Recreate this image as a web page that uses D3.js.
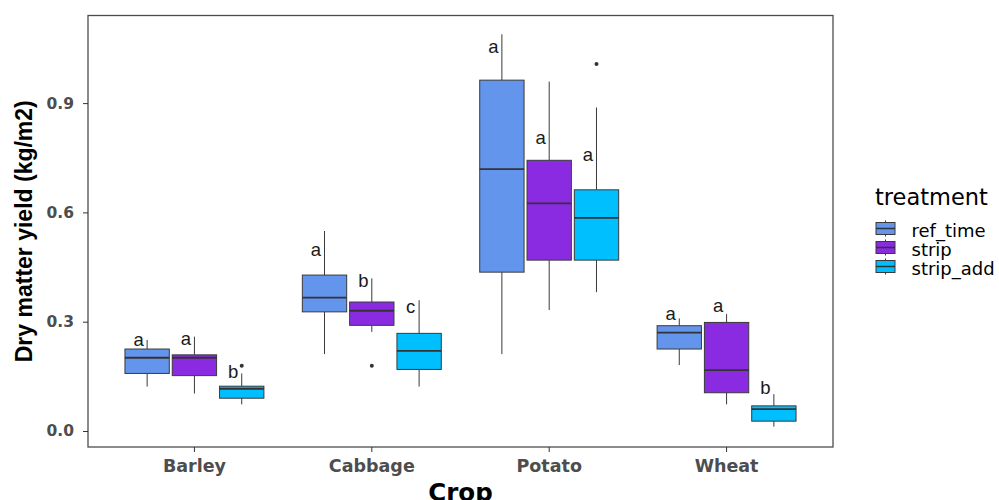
<!DOCTYPE html>
<html>
<meta charset="utf-8">
<script src="https://d3js.org/d3.v7.js"></script>
<style>
    body { margin: 0; background: #fff; }
    text { font-family: "DejaVu Sans", sans-serif; }
</style>
<body>
    <div id="my_boxplot"></div>
    <script>

        // crops and treatments
        var crops = ["Barley", "Cabbage", "Potato", "Wheat"];
        var treatments = ["ref_time", "strip", "strip_add"];
        var colors = ["#6495ED", "#8A2BE2", "#00BFFF"];

        // box statistics per treatment, one value per crop
        var ref_time_low = [0.122, 0.211, 0.211, 0.181];
        var ref_time_q1 = [0.158, 0.327, 0.436, 0.225];
        var ref_time_med = [0.201, 0.366, 0.719, 0.270];
        var ref_time_q3 = [0.225, 0.428, 0.963, 0.289];
        var ref_time_high = [0.250, 0.549, 1.089, 0.309];

        var strip_low = [0.103, 0.272, 0.332, 0.073];
        var strip_q1 = [0.152, 0.290, 0.469, 0.105];
        var strip_med = [0.201, 0.330, 0.625, 0.167];
        var strip_q3 = [0.209, 0.354, 0.743, 0.298];
        var strip_high = [0.259, 0.419, 0.959, 0.321];

        var strip_add_low = [0.073, 0.122, 0.381, 0.012];
        var strip_add_q1 = [0.090, 0.169, 0.469, 0.027];
        var strip_add_med = [0.116, 0.220, 0.585, 0.060];
        var strip_add_q3 = [0.123, 0.268, 0.662, 0.069];
        var strip_add_high = [0.158, 0.359, 0.888, 0.101];

        // outliers: [crop, treatment, value]
        var outliers = [
            ["Barley", "strip_add", 0.179],
            ["Cabbage", "strip", 0.179],
            ["Potato", "strip_add", 1.007]
        ];

        // significance letters and their heights
        var ref_time_letters = ["a", "a", "a", "a"];
        var strip_letters = ["a", "b", "a", "a"];
        var strip_add_letters = ["b", "c", "a", "b"];
        var ref_time_letterY = [0.250, 0.497, 1.055, 0.320];
        var strip_letterY = [0.252, 0.412, 0.804, 0.343];
        var strip_add_letterY = [0.163, 0.341, 0.757, 0.119];

        var yTicks = [0.0, 0.3, 0.6, 0.9];

        // build table of boxes
        var stats = {
            ref_time: [ref_time_low, ref_time_q1, ref_time_med, ref_time_q3, ref_time_high, ref_time_letters, ref_time_letterY],
            strip: [strip_low, strip_q1, strip_med, strip_q3, strip_high, strip_letters, strip_letterY],
            strip_add: [strip_add_low, strip_add_q1, strip_add_med, strip_add_q3, strip_add_high, strip_add_letters, strip_add_letterY]
        };
        var boxes = [];
        treatments.forEach(function (t) {
            var s = stats[t];
            crops.forEach(function (c, i) {
                boxes.push({
                    crop: c, treatment: t,
                    low: s[0][i], q1: s[1][i], med: s[2][i], q3: s[3][i], high: s[4][i],
                    letter: s[5][i], letterY: s[6][i]
                });
            });
        });

        // panel
        var panel = { left: 88, top: 15.5, right: 833, bottom: 447 };

        var svg = d3.select("#my_boxplot")
            .append("svg")
            .attr("width", 999)
            .attr("height", 500);

        // scales
        var x = d3.scaleBand()
            .domain(crops)
            .range([panel.left, panel.right])
            .paddingInner(0)
            .paddingOuter(0.1);
        var step = x.step();
        var xSub = d3.scaleBand()
            .domain(treatments)
            .range([-0.4 * step, 0.4 * step]);
        var boxW = 0.25 * step;

        var y = d3.scaleLinear()
            .domain([0, 0.3])
            .range([431, 431 - 109.3]);

        var color = d3.scaleOrdinal().domain(treatments).range(colors);

        function cx(d) { return x(d.crop) + x.bandwidth() / 2 + xSub(d.treatment) + xSub.bandwidth() / 2; }

        // boxes
        var g = svg.append("g");
        var box = g.selectAll(".box")
            .data(boxes)
            .enter()
            .append("g")
            .attr("class", "box");

        box.append("line")
            .attr("x1", cx).attr("x2", cx)
            .attr("y1", function (d) { return y(d.high) })
            .attr("y2", function (d) { return y(d.q3) })
            .attr("stroke", "#3a3a3a").attr("stroke-width", 1);
        box.append("line")
            .attr("x1", cx).attr("x2", cx)
            .attr("y1", function (d) { return y(d.q1) })
            .attr("y2", function (d) { return y(d.low) })
            .attr("stroke", "#3a3a3a").attr("stroke-width", 1);
        box.append("rect")
            .attr("x", function (d) { return cx(d) - boxW / 2 })
            .attr("y", function (d) { return y(d.q3) })
            .attr("width", boxW)
            .attr("height", function (d) { return y(d.q1) - y(d.q3) })
            .attr("fill", function (d) { return color(d.treatment) })
            .attr("stroke", "#3a3a3a").attr("stroke-width", 1);
        box.append("line")
            .attr("x1", function (d) { return cx(d) - boxW / 2 })
            .attr("x2", function (d) { return cx(d) + boxW / 2 })
            .attr("y1", function (d) { return y(d.med) })
            .attr("y2", function (d) { return y(d.med) })
            .attr("stroke", "#333").attr("stroke-width", 1.8);

        // letters
        box.append("text")
            .attr("x", function (d) { return cx(d) - 8.5 })
            .attr("y", function (d) { return y(d.letterY) })
            .attr("dy", "0.32em")
            .attr("text-anchor", "middle")
            .style("font-family", "'Liberation Sans', Arial, sans-serif")
            .style("font-size", "18.5px")
            .style("fill", "#1a1a1a")
            .text(function (d) { return d.letter });

        // outliers
        g.selectAll(".out")
            .data(outliers)
            .enter()
            .append("circle")
            .attr("cx", function (d) { return cx({ crop: d[0], treatment: d[1] }) })
            .attr("cy", function (d) { return y(d[2]) })
            .attr("r", 2)
            .attr("fill", "#333");

        // panel border
        svg.append("rect")
            .attr("x", panel.left)
            .attr("y", panel.top)
            .attr("width", panel.right - panel.left)
            .attr("height", panel.bottom - panel.top)
            .attr("fill", "none")
            .attr("stroke", "#4d4d4d")
            .attr("stroke-width", 1.3);

        // axes
        var yAxis = svg.append("g")
            .attr("transform", "translate(" + panel.left + ",0)")
            .call(d3.axisLeft(y).tickValues(yTicks).tickFormat(d3.format(".1f")).tickSize(5).tickPadding(9));
        yAxis.select(".domain").remove();
        yAxis.selectAll("line").attr("stroke", "#333");
        yAxis.selectAll("text")
            .style("font-family", "'DejaVu Sans', sans-serif")
            .style("font-size", "15.5px")
            .style("font-weight", "bold")
            .style("fill", "#4d4d4d");

        var xAxis = svg.append("g")
            .attr("transform", "translate(0," + panel.bottom + ")")
            .call(d3.axisBottom(x).tickSize(5).tickPadding(7.5));
        xAxis.select(".domain").remove();
        xAxis.selectAll("line").attr("stroke", "#333");
        xAxis.selectAll("text")
            .style("font-family", "'DejaVu Sans', sans-serif")
            .style("font-size", "17.5px")
            .style("font-weight", "bold")
            .style("fill", "#4d4d4d");

        // axis titles
        svg.append("text")
            .attr("transform", "translate(31.5," + ((panel.top + panel.bottom) / 2) + ") rotate(-90)")
            .attr("text-anchor", "middle")
            .style("font-family", "'Liberation Sans', Arial, sans-serif")
            .style("font-size", "23px")
            .style("font-weight", "bold")
            .style("fill", "#000")
            .text("Dry matter yield (kg/m2)");

        svg.append("text")
            .attr("x", (panel.left + panel.right) / 2)
            .attr("y", 501)
            .attr("text-anchor", "middle")
            .style("font-size", "24.5px")
            .style("font-weight", "bold")
            .style("fill", "#000")
            .text("Crop");

        // legend
        var legend = svg.append("g");
        legend.append("text")
            .attr("x", 875)
            .attr("y", 205)
            .style("font-size", "22.5px")
            .style("fill", "#000")
            .text("treatment");

        var key = legend.selectAll(".key")
            .data(treatments)
            .enter()
            .append("g")
            .attr("class", "key")
            .attr("transform", function (d, i) { return "translate(876," + (228.5 + i * 19) + ")" });
        key.append("line")
            .attr("x1", 9.5).attr("x2", 9.5)
            .attr("y1", -8).attr("y2", 8)
            .attr("stroke", "#3a3a3a");
        key.append("rect")
            .attr("x", 0).attr("y", -6)
            .attr("width", 19).attr("height", 12)
            .attr("fill", function (d) { return color(d) })
            .attr("stroke", "#3a3a3a");
        key.append("line")
            .attr("x1", 0).attr("x2", 19)
            .attr("y1", 0).attr("y2", 0)
            .attr("stroke", "#333").attr("stroke-width", 1.5);
        key.append("text")
            .attr("x", 35.5)
            .attr("y", 1.5)
            .attr("dominant-baseline", "central")
            .style("font-size", "18px")
            .style("fill", "#000")
            .text(function (d) { return d });

    </script>
</body>

</html>
